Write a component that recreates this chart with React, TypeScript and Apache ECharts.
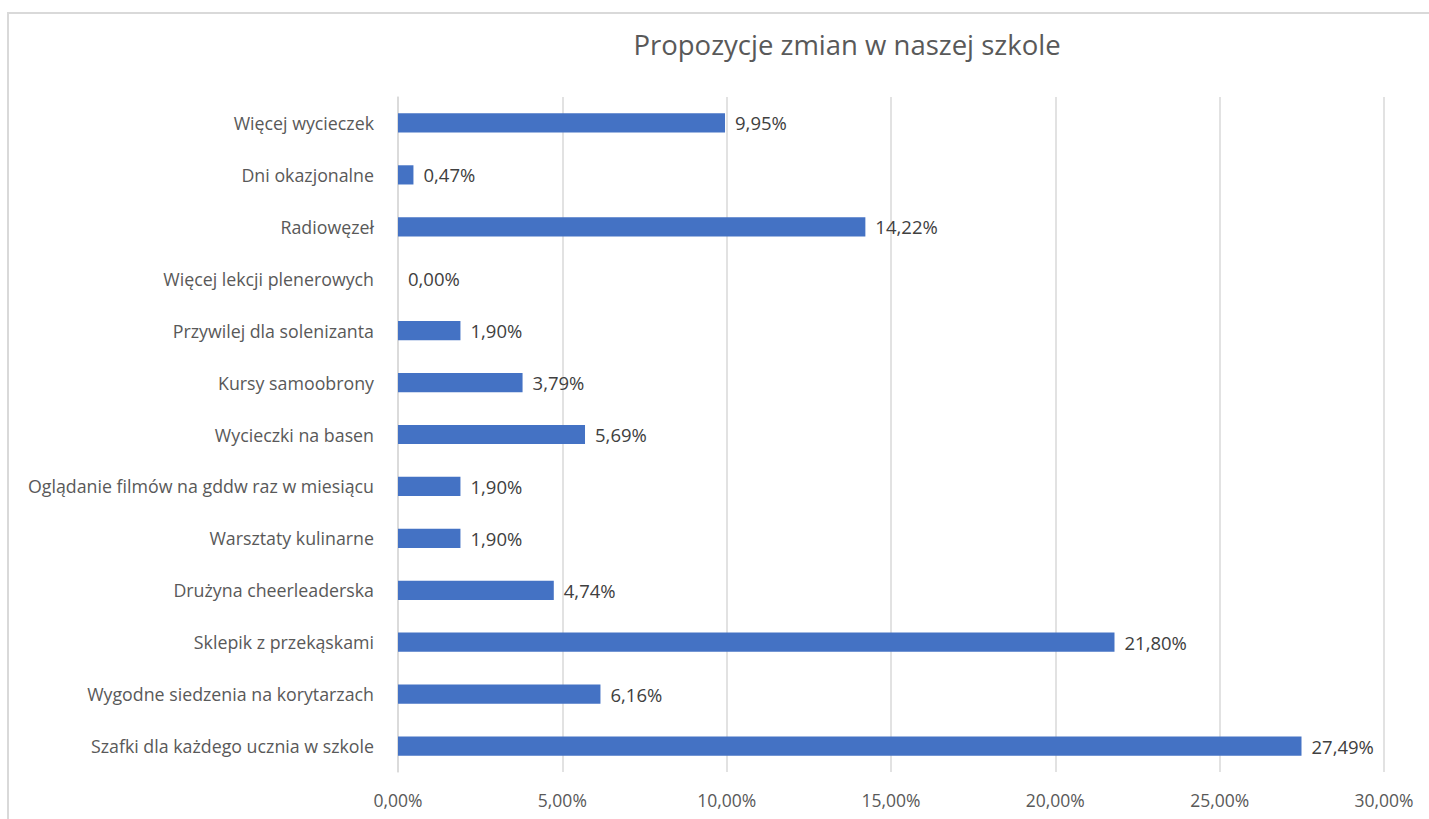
import React, { useEffect, useRef } from "react";
import * as echarts from "echarts";

const categories = [
  "Więcej wycieczek",
  "Dni okazjonalne",
  "Radiowęzeł",
  "Więcej lekcji plenerowych",
  "Przywilej dla solenizanta",
  "Kursy samoobrony",
  "Wycieczki na basen",
  "Oglądanie filmów na gddw raz w miesiącu",
  "Warsztaty kulinarne",
  "Drużyna cheerleaderska",
  "Sklepik z przekąskami",
  "Wygodne siedzenia na korytarzach",
  "Szafki dla każdego ucznia w szkole",
];
const values = [9.95, 0.47, 14.22, 0.0, 1.9, 3.79, 5.69, 1.9, 1.9, 4.74, 21.8, 6.16, 27.49];
const title = "Propozycje zmian w naszej szkole";

const FONT = "'Open Sans', 'Noto Sans', sans-serif";
const fmt = (v: number) => v.toFixed(2).replace(".", ",") + "%";

export default function App() {
  const ref = useRef<HTMLDivElement>(null);
  useEffect(() => {
    document.body.style.margin = "0";
    const chart = echarts.init(ref.current!, null, { renderer: "svg" });
    chart.setOption({
      animation: false,
      backgroundColor: "#ffffff",
      textStyle: { fontFamily: FONT },
      title: {
        text: title,
        left: 842,
        textAlign: "center",
        top: 25,
        textStyle: { fontFamily: FONT, fontSize: 27.5, fontWeight: "normal", color: "#595959" },
      },
      graphic: [
        {
          type: "rect",
          shape: { x: 8, y: 13, width: 1440, height: 840 },
          style: { fill: "none", stroke: "#d9d9d9", lineWidth: 2 },
          silent: true,
        },
      ],
      grid: { left: 398, right: 45, top: 97, bottom: 47, containLabel: false },
      xAxis: {
        type: "value",
        min: 0,
        max: 30,
        interval: 5,
        axisLine: { show: false },
        axisTick: { show: false },
        splitLine: { show: true, lineStyle: { color: "#d9d9d9", width: 1.5 } },
        axisLabel: {
          formatter: (v: number) => fmt(v),
          color: "#595959",
          fontSize: 17.5,
          fontFamily: FONT,
          margin: 19,
        },
      },
      yAxis: {
        type: "category",
        data: categories,
        inverse: true,
        axisLine: { show: true, lineStyle: { color: "#d9d9d9", width: 1.5 } },
        axisTick: { show: false },
        axisLabel: { color: "#595959", fontSize: 17.8, fontFamily: FONT, margin: 24 },
      },
      series: [
        {
          type: "bar",
          data: values,
          barWidth: "37%",
          itemStyle: { color: "#4472C4" },
          label: {
            show: true,
            position: "right",
            distance: 10,
            formatter: (p: any) => fmt(p.value),
            color: "#404040",
            fontSize: 18.5,
            fontFamily: FONT,
          },
        },
      ],
    });
    return () => chart.dispose();
  }, []);
  return <div ref={ref} style={{ width: 1429, height: 819 }} />;
}
